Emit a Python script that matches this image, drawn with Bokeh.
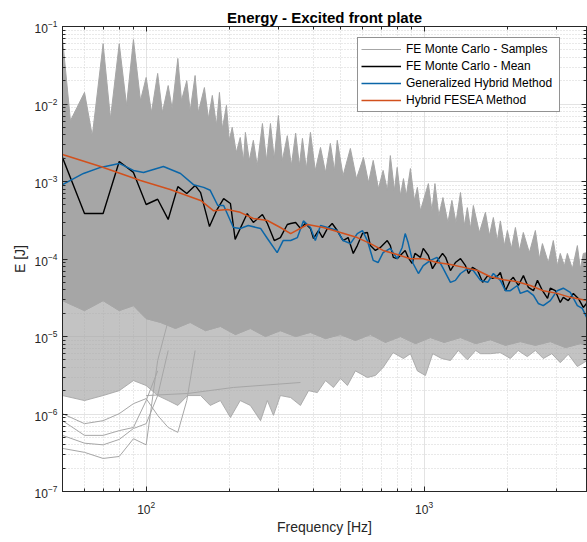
import numpy as np
from bokeh.plotting import figure
from bokeh.models import Range1d, LogAxis, Legend, LegendItem, FixedTicker
from bokeh.embed import file_html
from bokeh.resources import INLINE

# ---------------- data ----------------
# Monte Carlo sample cloud: upper spiky envelope
samples_upper_f = [50, 53.4, 60, 64, 70, 74.4, 80, 85, 90, 95.4,
                   100, 104.5, 110, 114.4, 120, 124, 130, 134, 140, 144,
                   150, 154, 162, 167.5, 173, 179, 183.5, 188, 194.5, 199,
                   204, 211, 218, 224, 227.5, 235, 243, 251, 262, 271,
                   280, 289, 299, 309, 322, 333, 345, 356, 365, 377,
                   390, 406, 424, 442, 460, 476, 487, 511, 543, 571,
                   605, 631, 656, 685, 712, 738, 756, 782, 800, 822,
                   843, 863, 893, 923, 946, 970, 1036, 1067, 1094,
                   1130, 1169, 1218, 1259, 1302, 1352, 1396, 1431, 1469, 1504,
                   1581, 1662, 1718, 1775, 1835, 1881, 1945, 1994, 2061, 2131,
                   2203, 2275, 2392, 2514, 2599, 2665, 2799, 2917, 3017, 3090,
                   3197, 3277, 3416, 3560, 3650, 3741, 3865]
samples_upper_E = [7.0e-2, 6.1e-3, 1.41e-2, 3.9e-3, 6.0e-2, 6.5e-3, 6.0e-2, 9.6e-3, 6.8e-2, 1.11e-2,
                   2.2e-2, 7.8e-3, 2.48e-2, 7.8e-3, 1.73e-2, 8.75e-3, 3.87e-2, 1.11e-2, 2.0e-2, 8.2e-3,
                   2.33e-2, 7.8e-3, 1.63e-2, 6.5e-3, 1.29e-2, 5.3e-3, 1.41e-2, 4.8e-3, 9.6e-3, 3.4e-3,
                   5.0e-3, 2.37e-3, 3.7e-3, 1.87e-3, 4.3e-3, 1.87e-3, 3.4e-3, 1.61e-3, 5.6e-3, 1.87e-3,
                   5.6e-3, 1.98e-3, 7.1e-3, 1.87e-3, 3.9e-3, 1.61e-3, 4.2e-3, 1.61e-3, 3.6e-3, 1.47e-3,
                   4.3e-3, 1.39e-3, 2.75e-3, 1.31e-3, 3.1e-3, 1.39e-3, 3.4e-3, 1.19e-3, 2.67e-3, 1.09e-3,
                   2.04e-3, 9.7e-4, 1.87e-3, 8.1e-4, 1.39e-3, 7.7e-4, 2.16e-3, 7.7e-4, 1.52e-3, 6.6e-4,
                   1.09e-3, 6.6e-4, 1.47e-3, 5.7e-4, 8.4e-4, 4.2e-4, 9.4e-4, 4.2e-4, 9.4e-4,
                   3.64e-4, 6.2e-4, 2.96e-4, 5.7e-4, 2.96e-4, 7.2e-4, 2.7e-4, 4.6e-4, 2.48e-4, 4.9e-4,
                   2.2e-4, 4.0e-4, 2.01e-4, 3.43e-4, 1.73e-4, 3.1e-4, 1.49e-4, 2.33e-4, 1.37e-4, 2.55e-4,
                   1.29e-4, 2.2e-4, 1.21e-4, 2.33e-4, 1.01e-4, 1.58e-4, 9.0e-5, 1.73e-4, 8.2e-5, 1.18e-4,
                   8.2e-5, 1.18e-4, 7.5e-5, 1.49e-4, 7.5e-5, 1.18e-4, 1.21e-4]

# dense core lower boundary
samples_core_low_f = [50, 60, 70, 80, 90, 100, 112.6, 127.5, 144, 163.5,
                      185, 209.5, 237, 268.6, 304, 345, 390, 442, 500, 566,
                      641, 726, 822, 931, 1054, 1181, 1352, 1533, 1732, 1962,
                      2219, 2514, 2845, 3230, 3650, 3865]
samples_core_low_E = [2.9e-5, 2.16e-5, 2.9e-5, 2.16e-5, 2.5e-5, 1.7e-5, 1.52e-5, 1.27e-5, 1.52e-5, 1.19e-5,
                      1.35e-5, 1.06e-5, 1.27e-5, 1.0e-5, 1.19e-5, 1.0e-5, 1.13e-5, 9.4e-6, 1.06e-5, 8.9e-6,
                      1.06e-5, 8.4e-6, 1.0e-5, 8.1e-6, 9.7e-6, 8.4e-6, 9.7e-6, 8.1e-6, 9.1e-6, 7.7e-6,
                      8.6e-6, 7.7e-6, 8.6e-6, 7.2e-6, 8.1e-6, 7.7e-6]

# sparse fringe lower boundary
samples_fringe_low_f = [50, 60, 70, 80, 90, 100, 110, 120, 130, 141,
                        157, 170, 185, 201, 218, 237, 258, 273, 287, 304,
                        331, 359, 384, 413, 442, 472, 500, 530, 566, 625,
                        668, 712, 773, 843, 893, 946, 1011, 1074, 1157, 1244,
                        1327, 1431, 1533, 1596, 1732, 1881, 2043, 2180, 2351, 2514,
                        2684, 2880, 3090, 3302, 3560, 3865]
samples_fringe_low_E = [1.73e-6, 1.49e-6, 1.73e-6, 2.0e-6, 2.7e-6, 2.33e-6, 1.73e-6, 1.49e-6, 1.29e-6, 1.73e-6,
                        1.73e-6, 1.29e-6, 1.49e-6, 9.0e-7, 1.49e-6, 1.29e-6, 8.2e-7, 1.49e-6, 9.6e-7, 1.73e-6,
                        1.63e-6, 1.29e-6, 2.0e-6, 1.89e-6, 2.7e-6, 2.2e-6, 2.87e-6, 2.33e-6, 3.6e-6, 2.96e-6,
                        3.14e-6, 3.98e-6, 6.2e-6, 5.2e-6, 6.0e-6, 3.6e-6, 3.14e-6, 6.0e-6, 5.2e-6, 4.9e-6,
                        6.6e-6, 5.0e-6, 6.6e-6, 6.0e-6, 6.0e-6, 6.2e-6, 5.2e-6, 6.6e-6, 5.5e-6, 6.6e-6,
                        5.2e-6, 6.0e-6, 4.6e-6, 5.9e-6, 4.1e-6, 4.9e-6]

# individual low-frequency sample curves visible below the cloud
sample_lines_f = [
    [50, 60, 70, 80, 90, 100, 110, 120],
    [50, 60, 70, 80, 90, 100, 110, 120],
    [50, 60, 70, 80, 90, 100, 110],
    [50, 60, 70, 80, 90, 100, 110, 120, 130, 140, 150],
    [100, 141, 206, 359],
]
sample_lines_E = [
    [3.6e-7, 3.2e-7, 2.67e-7, 2.83e-7, 4.8e-7, 4.0e-7, 4.9e-6, 1.6e-5],
    [5.3e-7, 4.2e-7, 4.0e-7, 4.7e-7, 6.5e-7, 7.5e-7, 1.73e-6, 6.6e-6],
    [8.2e-7, 5.3e-7, 5.3e-7, 6.1e-7, 6.7e-7, 1.49e-6, 3.6e-6],
    [1.01e-6, 7.5e-7, 8.2e-7, 1.01e-6, 1.36e-6, 1.58e-6, 9.6e-7, 6.7e-7, 5.8e-7, 1.49e-6, 6.6e-6],
    [1.73e-6, 1.84e-6, 2.2e-6, 2.55e-6],
]

# FE Monte Carlo - Mean
mean_f = [50, 60, 70, 80, 90, 100, 110, 120, 130, 140,
          150, 157, 169, 179, 190, 201, 209, 231, 243, 262,
          273, 289, 304, 322, 331, 345, 359, 374, 390, 400,
          417, 431, 449, 467, 487, 511, 533, 556, 575, 600,
          625, 641, 668, 696, 737, 756, 775, 800, 834, 855,
          876, 905, 927, 970, 993, 1036, 1072, 1118, 1165, 1195,
          1244, 1296, 1352, 1409, 1445, 1493, 1558, 1624, 1694, 1766,
          1842, 1881, 1962, 2043, 2094, 2184, 2277, 2374, 2475, 2558,
          2667, 2781, 2845, 2966, 3090, 3168, 3302, 3443, 3588, 3740, 3865]
mean_E = [2.04e-3, 3.86e-4, 3.86e-4, 1.81e-3, 1.31e-3, 5.05e-4, 5.9e-4, 3.24e-4, 8.6e-4, 7.0e-4,
          8.9e-4, 7.2e-4, 2.62e-4, 4.2e-4, 6.0e-4, 5.2e-4, 1.79e-4, 3.86e-4, 2.96e-4, 3.75e-4,
          2.87e-4, 1.73e-4, 1.89e-4, 2.79e-4, 2.87e-4, 2.96e-4, 2.48e-4, 2.87e-4, 2.48e-4, 1.84e-4,
          2.33e-4, 1.89e-4, 2.48e-4, 2.87e-4, 2.33e-4, 1.73e-4, 1.89e-4, 1.18e-4, 1.49e-4, 2.13e-4,
          2.2e-4, 1.49e-4, 1.29e-4, 1.41e-4, 1.73e-4, 1.49e-4, 1.05e-4, 1.01e-4, 1.18e-4, 1.29e-4,
          1.05e-4, 8.75e-5, 1.18e-4, 1.05e-4, 1.37e-4, 1.11e-4, 7.5e-5, 9.6e-5, 1.18e-4, 1.05e-4,
          7.1e-5, 9.0e-5, 1.01e-4, 8.2e-5, 6.5e-5, 7.8e-5, 7.1e-5, 5.0e-5, 6.1e-5, 5.6e-5,
          6.1e-5, 6.7e-5, 3.9e-5, 5.3e-5, 5.8e-5, 4.55e-5, 6.1e-5, 4.3e-5, 3.9e-5, 5.3e-5,
          3.9e-5, 3.1e-5, 4.2e-5, 3.9e-5, 2.75e-5, 3.2e-5, 2.9e-5, 3.6e-5, 3.1e-5, 2.37e-5, 2.75e-5]

# Generalized Hybrid Method
gh_f = [50, 59.5, 68.5, 80, 90, 97.8, 115.4, 132.9, 148, 161,
        170, 181, 190, 206, 218, 233, 258, 273, 296, 311,
        331, 350, 368, 390, 406, 424, 449, 487, 511, 543,
        575, 600, 625, 656, 683, 712, 756, 800, 834, 855,
        876, 913, 954, 993, 1054, 1113, 1166, 1244, 1296, 1352,
        1433, 1503, 1596, 1694, 1775, 1881, 1962, 2043, 2165, 2219,
        2351, 2475, 2575, 2684, 2845, 3012, 3168, 3357, 3560, 3710, 3865]
gh_E = [9.1e-4, 1.27e-3, 1.52e-3, 1.71e-3, 1.39e-3, 1.31e-3, 1.56e-3, 1.27e-3, 9.1e-4, 8.4e-4,
        7.7e-4, 4.9e-4, 4.9e-4, 2.55e-4, 2.48e-4, 2.7e-4, 2.48e-4, 1.84e-4, 1.21e-4, 1.73e-4,
        1.73e-4, 1.89e-4, 3.1e-4, 2.55e-4, 1.73e-4, 2.7e-4, 2.55e-4, 2.33e-4, 1.73e-4, 1.58e-4,
        2.13e-4, 2.33e-4, 1.73e-4, 9.6e-5, 9.0e-5, 1.21e-4, 1.37e-4, 1.01e-4, 1.41e-4, 2.13e-4,
        1.63e-4, 8.75e-5, 6.5e-5, 8.2e-5, 9.6e-5, 1.05e-4, 7.8e-5, 5.0e-5, 5.3e-5, 6.5e-5,
        7.5e-5, 7.1e-5, 5.3e-5, 5.0e-5, 6.5e-5, 5.3e-5, 3.9e-5, 3.9e-5, 4.55e-5, 3.6e-5,
        3.9e-5, 3.4e-5, 2.67e-5, 2.5e-5, 2.9e-5, 3.9e-5, 4.2e-5, 3.7e-5, 2.5e-5, 2.3e-5, 1.7e-5]

# Hybrid FESEA Method
fesea_f = [50, 68.5, 95.4, 122, 157, 174.5, 196, 218, 243, 273,
           304, 331, 381, 434, 500, 575, 641, 712, 800, 893,
           993, 1113, 1244, 1389, 1558, 1732, 1933, 2165, 2411, 2684,
           3012, 3357, 3865]
fesea_E = [2.23e-3, 1.56e-3, 1.03e-3, 7.9e-4, 5.7e-4, 4.2e-4, 4.35e-4, 4.0e-4, 3.33e-4, 3.14e-4,
           2.55e-4, 2.13e-4, 2.79e-4, 2.55e-4, 2.2e-4, 1.89e-4, 1.58e-4, 1.29e-4, 1.14e-4, 1.01e-4,
           1.01e-4, 9.0e-5, 8.5e-5, 7.8e-5, 7.1e-5, 5.9e-5, 5.4e-5, 5.1e-5, 4.55e-5, 3.9e-5,
           3.6e-5, 3.2e-5, 2.9e-5]

series_labels = ["FE Monte Carlo - Samples", "FE Monte Carlo - Mean",
                 "Generalized Hybrid Method", "Hybrid FESEA Method"]

x_major_ticks = [100, 1000]
x_minor_ticks = [50, 60, 70, 80, 90, 200, 300, 400, 500, 600, 700, 800, 900, 2000, 3000]
y_major_ticks = [1e-7, 1e-6, 1e-5, 1e-4, 1e-3, 1e-2, 1e-1]
y_minor_ticks = [m * d for d in [1e-7, 1e-6, 1e-5, 1e-4, 1e-3, 1e-2] for m in range(2, 10)]

# ---------------- figure ----------------
FONT = "Liberation Sans"
GREY = "#a6a6a6"
INK = "#262626"

p = figure(width=587, height=542, x_axis_type="log", y_axis_type="log",
           x_range=Range1d(50, 3840), y_range=Range1d(1e-7, 1e-1),
           output_backend="svg", toolbar_location=None,
           min_border_left=62, min_border_right=1, min_border_top=26, min_border_bottom=51)

p.title.text = "Energy - Excited front plate"
p.title.text_font = FONT
p.title.text_font_size = "15px"
p.title.text_font_style = "bold"
p.title.text_color = "#000000"
p.title.align = "center"
p.title.standoff = 2

p.outline_line_color = INK
p.outline_line_width = 1
p.background_fill_color = "white"
p.border_fill_color = "white"

xt = FixedTicker(ticks=x_major_ticks, minor_ticks=x_minor_ticks)
yt = FixedTicker(ticks=y_major_ticks, minor_ticks=y_minor_ticks)
p.xaxis.ticker = xt
p.yaxis.ticker = yt
p.xgrid.ticker = xt
p.ygrid.ticker = yt

for g in (p.xgrid, p.ygrid):
    g.grid_line_color = "#e3e3e3"
    g.grid_line_width = 1
    g.minor_grid_line_color = "#d2d2d2"
    g.minor_grid_line_dash = "1 2"
    g.minor_grid_line_width = 1

p.xaxis.axis_label = "Frequency [Hz]"
p.yaxis.axis_label = "E [J]"
for ax in (p.xaxis[0], p.yaxis[0]):
    ax.axis_line_color = INK
    ax.major_tick_line_color = INK
    ax.minor_tick_line_color = INK
    ax.major_tick_in = 5
    ax.major_tick_out = 0
    ax.minor_tick_in = 3
    ax.minor_tick_out = 0
    ax.major_label_text_font = FONT
    ax.major_label_text_font_size = "12px"
    ax.major_label_text_color = INK
    ax.axis_label_text_font = FONT
    ax.axis_label_text_font_size = "14px"
    ax.axis_label_text_font_style = "normal"
    ax.axis_label_text_color = INK
p.yaxis.major_label_standoff = 5
p.yaxis.axis_label_standoff = 4
p.xaxis.major_label_standoff = 9
p.xaxis.axis_label_standoff = 2

# box ticks on top / right (labels hidden)
top_ax = LogAxis(ticker=xt, major_label_text_font_size="1px", major_label_text_alpha=0,
                 major_label_standoff=0,
                 major_tick_in=5, major_tick_out=0, minor_tick_in=3, minor_tick_out=0,
                 axis_line_color=INK, major_tick_line_color=INK, minor_tick_line_color=INK)
right_ax = LogAxis(ticker=yt, major_label_text_font_size="1px", major_label_text_alpha=0,
                   major_label_standoff=0,
                   major_tick_in=5, major_tick_out=0, minor_tick_in=3, minor_tick_out=0,
                   axis_line_color=INK, major_tick_line_color=INK, minor_tick_line_color=INK)
p.add_layout(top_ax, "above")
p.add_layout(right_ax, "right")

# sample cloud
fr_x = samples_core_low_f + samples_fringe_low_f[::-1]
fr_y = samples_core_low_E + samples_fringe_low_E[::-1]
p.patch(fr_x, fr_y, fill_color=GREY, fill_alpha=0.68, line_color=GREY, line_alpha=0.9, line_width=1)
core_x = samples_upper_f + samples_core_low_f[::-1]
core_y = samples_upper_E + samples_core_low_E[::-1]
p.patch(core_x, core_y, fill_color=GREY, line_color=GREY, line_width=1)
r_samples = p.multi_line(sample_lines_f, sample_lines_E, line_color=GREY, line_width=1)

r_mean = p.line(mean_f, mean_E, line_color="#000000", line_width=1.4)
r_gh = p.line(gh_f, gh_E, line_color="#0b66a8", line_width=1.5)
r_fe = p.line(fesea_f, fesea_E, line_color="#D2501C", line_width=1.5)

legend = Legend(items=[LegendItem(label=series_labels[0], renderers=[r_samples]),
                       LegendItem(label=series_labels[1], renderers=[r_mean]),
                       LegendItem(label=series_labels[2], renderers=[r_gh]),
                       LegendItem(label=series_labels[3], renderers=[r_fe])],
                location=(295, 379))
legend.glyph_width = 40
legend.glyph_height = 16
legend.label_height = 16
legend.label_width = 150
legend.spacing = 1
legend.padding = 3
legend.margin = 0
legend.label_standoff = 5
legend.label_text_font = FONT
legend.label_text_font_size = "12px"
legend.label_text_color = "#000000"
legend.border_line_color = INK
legend.border_line_width = 1
legend.background_fill_color = "white"
legend.background_fill_alpha = 1
p.add_layout(legend)

open("out.html", "w").write(file_html(p, INLINE))
